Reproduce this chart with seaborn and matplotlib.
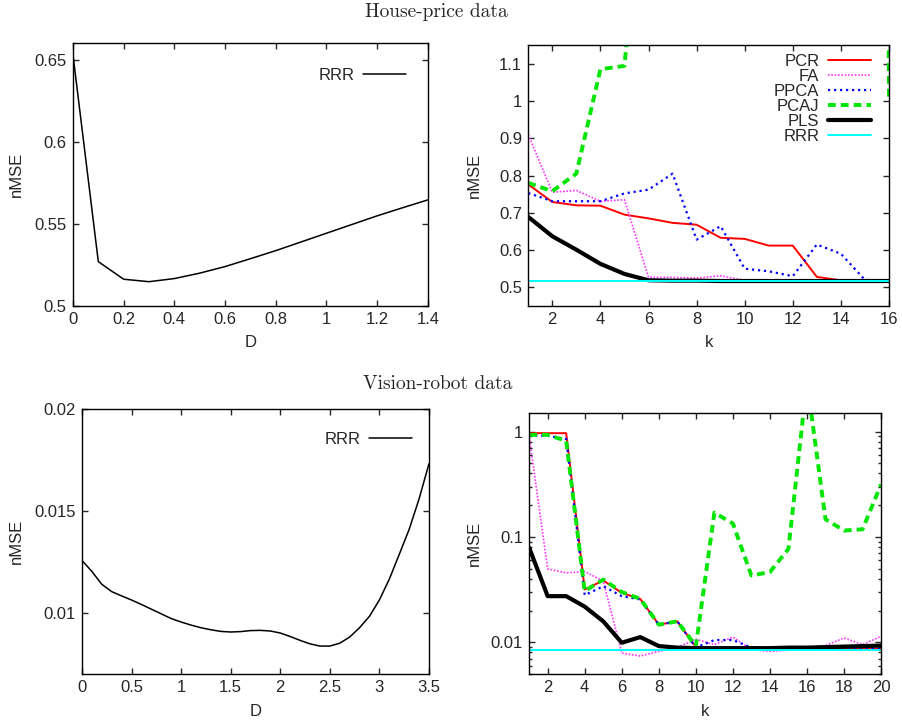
import matplotlib
matplotlib.use("Agg")
import matplotlib.pyplot as plt
import matplotlib.ticker as mticker
import seaborn as sns

# top row: house-price data
house_d = [0.0, 0.1, 0.2, 0.3, 0.4, 0.5, 0.6, 0.7, 0.8, 0.9, 1.0, 1.1, 1.2, 1.3, 1.4]
house_rrr_d = [0.653, 0.527, 0.5163, 0.5148, 0.5167, 0.520, 0.524, 0.5288, 0.5337,
               0.539, 0.5443, 0.5496, 0.5549, 0.5598, 0.5646]

house_k = list(range(1, 17))
house_pcr = [0.776, 0.729, 0.720, 0.719, 0.695, 0.685, 0.673, 0.668, 0.633, 0.630,
             0.612, 0.612, 0.528, 0.519, 0.518, 0.518]
house_fa = [0.910, 0.755, 0.760, 0.731, 0.735, 0.527, 0.527, 0.525, 0.531, 0.519,
            0.518, 0.518, 0.518, 0.518, 0.518, 0.518]
house_ppca = [0.753, 0.731, 0.731, 0.731, 0.752, 0.762, 0.805, 0.628, 0.664, 0.550,
              0.543, 0.530, 0.615, 0.590, 0.520, 0.518]
house_pcaj = [0.780, 0.758, 0.805, 1.085, 1.094, 1.8, 2.5, 3.2, 4.0, 3.5,
              5.0, 6.0, 7.5, 9.0, 12.0, 1.005]
house_pls = [0.689, 0.637, 0.601, 0.563, 0.536, 0.519, 0.518, 0.518, 0.517, 0.517,
             0.517, 0.517, 0.517, 0.517, 0.517, 0.517]
house_rrr = [0.516] * 16

# bottom row: vision-robot data
robot_d = [0.0, 0.1, 0.2, 0.3, 0.4, 0.5, 0.6, 0.7, 0.8, 0.9, 1.0, 1.1, 1.2, 1.3, 1.4,
           1.5, 1.6, 1.7, 1.8, 1.9, 2.0, 2.1, 2.2, 2.3, 2.4, 2.5, 2.6, 2.7, 2.8, 2.9,
           3.0, 3.1, 3.2, 3.3, 3.4, 3.5]
robot_rrr_d = [0.01257, 0.01203, 0.01140, 0.01104, 0.01083, 0.01063, 0.01041, 0.01018,
               0.00995, 0.00972, 0.00955, 0.00940, 0.00927, 0.00917, 0.00909, 0.00906,
               0.00908, 0.00913, 0.00914, 0.00911, 0.00901, 0.00884, 0.00865, 0.00848,
               0.00837, 0.00837, 0.00851, 0.00881, 0.00927, 0.00983, 0.01063, 0.01165,
               0.01286, 0.01409, 0.01558, 0.01731]

robot_k = list(range(1, 21))
robot_pcr = [0.965, 0.965, 0.965, 0.0317, 0.0386, 0.0294, 0.0258, 0.0147, 0.0158, 0.0090,
             0.0087, 0.0089, 0.0088, 0.0087, 0.0087, 0.0087, 0.0087, 0.0087, 0.0087, 0.0087]
robot_fa = [0.90, 0.0498, 0.0455, 0.047, 0.038, 0.0079, 0.0074, 0.0082, 0.0089, 0.0107,
            0.0095, 0.0112, 0.0085, 0.0082, 0.0084, 0.0089, 0.0093, 0.0110, 0.0095, 0.0114]
robot_ppca = [0.92, 0.91, 0.85, 0.028, 0.034, 0.0274, 0.0255, 0.0147, 0.0158, 0.0089,
              0.0105, 0.0105, 0.0089, 0.0087, 0.0086, 0.0086, 0.0086, 0.0086, 0.0086, 0.0086]
robot_pcaj = [0.93, 0.93, 0.815, 0.0306, 0.0394, 0.030, 0.0258, 0.0147, 0.0158, 0.0092,
              0.17, 0.134, 0.043, 0.0464, 0.077, 3.0, 0.147, 0.115, 0.118, 0.315]
robot_pls = [0.079, 0.0274, 0.0274, 0.0218, 0.0158, 0.0099, 0.0112, 0.0092, 0.0089, 0.0088,
             0.0088, 0.0088, 0.0088, 0.0088, 0.0089, 0.0089, 0.0090, 0.0091, 0.0092, 0.0093]
robot_rrr = [0.0084] * 20

series_names = ["PCR", "FA", "PPCA", "PCAJ", "PLS", "RRR"]
series_style = {
    "PCR": dict(color="#ff0000", lw=1.4, ls="-"),
    "FA": dict(color="#ff33ff", lw=1.2, ls=(0, (1, 1))),
    "PPCA": dict(color="#0000ff", lw=1.6, ls=(0, (1, 1.7))),
    "PCAJ": dict(color="#00e600", lw=2.8, ls=(0, (2.0, 1.3))),
    "PLS": dict(color="black", lw=3.0, ls="-"),
    "RRR": dict(color="#00ffff", lw=1.4, ls="-"),
}

FS = 12


def style_axes(ax):
    ax.tick_params(which="both", direction="in", top=True, right=True,
                   labelsize=FS, pad=4.5, width=1.0)
    ax.tick_params(which="major", length=4)
    ax.tick_params(which="minor", length=2)
    for sp in ax.spines.values():
        sp.set_linewidth(1.0)
        sp.set_color("black")


def legend(ax, x, y):
    ax.legend(loc="upper right", bbox_to_anchor=(x, y), frameon=False,
              markerfirst=False, fontsize=FS, handlelength=2.6,
              handletextpad=0.5, labelspacing=0.0, borderpad=0,
              borderaxespad=0)


def labels(ax, xl, yl, xpos, ypos):
    ax.set_xlabel(xl, fontsize=FS)
    ax.set_ylabel(yl, fontsize=FS)
    ax.xaxis.set_label_coords(0.5, xpos)
    ax.yaxis.set_label_coords(ypos, 0.5)


def main():
    sns.set_style("ticks")
    plt.rcParams["font.family"] = ["Liberation Sans", "DejaVu Sans"]

    fig = plt.figure(figsize=(9.03, 7.2), dpi=100)
    ax1 = fig.add_axes([0.0808, 0.575, 0.393, 0.365])
    ax2 = fig.add_axes([0.585, 0.575, 0.3995, 0.3625])
    ax3 = fig.add_axes([0.0908, 0.0639, 0.3842, 0.368])
    ax4 = fig.add_axes([0.586, 0.0639, 0.3897, 0.3625])

    fmt = mticker.FormatStrFormatter("%g")

    # house-price, RRR vs D
    sns.lineplot(x=house_d, y=house_rrr_d, ax=ax1, color="black", lw=1.1, label="RRR")
    ax1.set_xlim(0, 1.4)
    ax1.set_ylim(0.5, 0.66)
    ax1.set_xticks([0, 0.2, 0.4, 0.6, 0.8, 1.0, 1.2, 1.4])
    ax1.set_yticks([0.5, 0.55, 0.6, 0.65])
    ax1.xaxis.set_major_formatter(fmt)
    ax1.yaxis.set_major_formatter(fmt)
    style_axes(ax1)
    legend(ax1, 0.938, 0.905)
    labels(ax1, "D", "nMSE", -0.11, -0.137)

    # house-price, methods vs k
    house_vals = [house_pcr, house_fa, house_ppca, house_pcaj, house_pls, house_rrr]
    for name, vals in zip(series_names, house_vals):
        sns.lineplot(x=house_k, y=vals, ax=ax2, label=name, **series_style[name])
    ax2.set_xlim(1, 16)
    ax2.set_ylim(0.45, 1.15)
    ax2.set_xticks(range(2, 17, 2))
    ax2.set_yticks([0.5, 0.6, 0.7, 0.8, 0.9, 1.0, 1.1])
    ax2.yaxis.set_major_formatter(fmt)
    style_axes(ax2)
    legend(ax2, 0.95, 0.965)
    labels(ax2, "k", "nMSE", -0.111, -0.129)

    # vision-robot, RRR vs D
    sns.lineplot(x=robot_d, y=robot_rrr_d, ax=ax3, color="black", lw=1.1, label="RRR")
    ax3.set_xlim(0, 3.5)
    ax3.set_ylim(0.007, 0.02)
    ax3.set_xticks([0, 0.5, 1, 1.5, 2, 2.5, 3, 3.5])
    ax3.set_yticks([0.01, 0.015, 0.02])
    ax3.xaxis.set_major_formatter(fmt)
    ax3.yaxis.set_major_formatter(fmt)
    style_axes(ax3)
    legend(ax3, 0.951, 0.913)
    labels(ax3, "D", "nMSE", -0.113, -0.166)

    # vision-robot, methods vs k (log scale)
    ax4.set_yscale("log")
    robot_vals = [robot_pcr, robot_fa, robot_ppca, robot_pcaj, robot_pls, robot_rrr]
    for name, vals in zip(series_names, robot_vals):
        sns.lineplot(x=robot_k, y=vals, ax=ax4, **series_style[name])
    ax4.set_xlim(1, 20)
    ax4.set_ylim(0.005, 1.5)
    ax4.set_xticks(range(2, 21, 2))
    ax4.yaxis.set_major_locator(mticker.FixedLocator([0.01, 0.1, 1]))
    ax4.yaxis.set_major_formatter(fmt)
    ax4.yaxis.set_minor_locator(mticker.LogLocator(base=10, subs=range(2, 10)))
    ax4.yaxis.set_minor_formatter(mticker.NullFormatter())
    style_axes(ax4)
    labels(ax4, "k", "nMSE", -0.115, -0.135)

    fig.text(0.483, 0.983, "House-price data", ha="center", va="center",
             family=["cmr10", "DejaVu Serif"], fontsize=14)
    fig.text(0.485, 0.467, "Vision-robot data", ha="center", va="center",
             family=["cmr10", "DejaVu Serif"], fontsize=14)

    fig.savefig("out.png", dpi=100)


if __name__ == "__main__":
    main()
